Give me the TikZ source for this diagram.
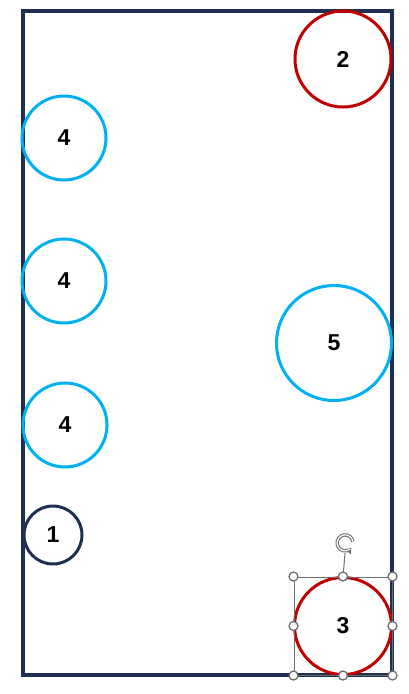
\documentclass[tikz,border=0pt]{standalone}
\usepackage{fontspec}
\setmainfont{Liberation Sans}
\usetikzlibrary{arrows.meta, calc}
\definecolor{frnavy}{HTML}{1F2F4F}
\definecolor{frcyan}{HTML}{00B0F0}
\definecolor{frred}{HTML}{C00000}
\definecolor{hdgray}{HTML}{6E6E6E}
\begin{document}
\begin{tikzpicture}[x=1pt, y=-1pt,
        ring/.style={circle, draw=frcyan, line width=3pt, inner sep=0pt, font=\fontsize{23}{26}\selectfont\bfseries},
        hd/.style={circle, draw=hdgray, fill=white, line width=1.3pt, minimum size=9pt, inner sep=0pt}]
      \useasboundingbox (0,0) rectangle (409,694);
      \draw[frnavy, line width=3.2pt] (23,11) rectangle (392,675);
      \node[ring, draw=frred, minimum size=96pt] (c2) at (343,59) {2};
      \node[ring, minimum size=84pt] (c4a) at (64,138) {4};
      \node[ring, minimum size=84pt] (c4b) at (64,281) {4};
      \node[ring, minimum size=84pt] (c4c) at (65,425) {4};
      \node[ring, minimum size=115pt] (c5) at (334,343) {5};
      \node[ring, draw=frnavy, minimum size=58pt] (c1) at (53,535) {1};
      \node[ring, draw=frred, minimum size=97pt] (c3) at (343,626) {3};
      % selection frame round 3
      \node[draw=hdgray, line width=1pt, minimum width=98pt, minimum height=98pt, inner sep=0pt] (sel) at (343,626) {};
      \node[circle, inner sep=0pt, minimum size=20pt] (rot) at (345,543) {};
      \draw[hdgray, line width=1pt] (sel.north) -- (rot.south);
      \draw[hdgray, line width=3.4pt, -{Triangle[length=5pt, width=8pt]}] ($(rot.center)+(8,-1.5)$) arc (-10:-320:8);
      \draw[white, line width=1.2pt] ($(rot.center)+(8,-1.5)$) arc (-10:-310:8);
      \foreach \a in {north west, north, north east, west, east, south west, south, south east}
        \node[hd] at (sel.\a) {};
    \end{tikzpicture}
\end{document}
